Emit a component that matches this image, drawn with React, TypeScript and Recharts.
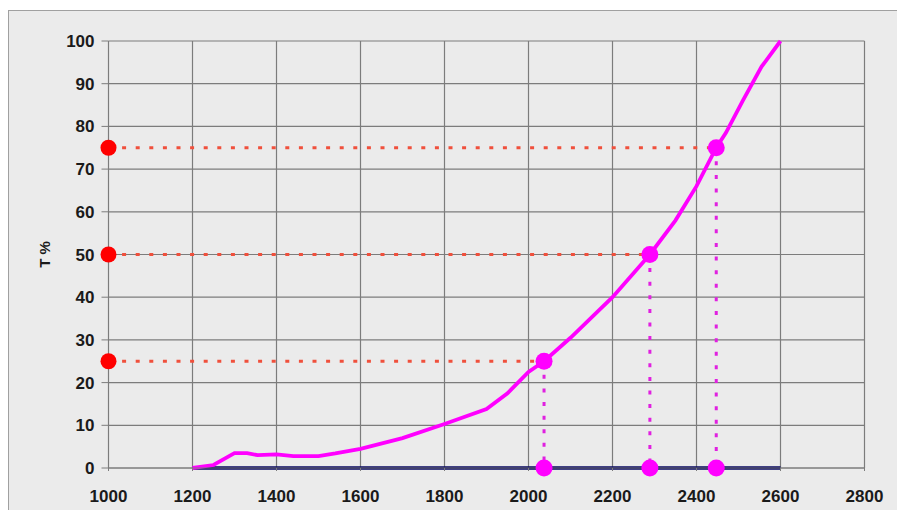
import React from 'react';
import { ComposedChart, Line, Scatter, XAxis, YAxis, CartesianGrid } from 'recharts';

const xTicks = [1000, 1200, 1400, 1600, 1800, 2000, 2200, 2400, 2600, 2800];
const yTicks = [0, 10, 20, 30, 40, 50, 60, 70, 80, 90, 100];

const curveX = [1200, 1250, 1300, 1330, 1355, 1400, 1440, 1500, 1540, 1600, 1700, 1800, 1900, 1950, 2000, 2037, 2100, 2200, 2289, 2350, 2400, 2447, 2470, 2510, 2555, 2600];
const curveY = [0, 0.7, 3.5, 3.5, 3.0, 3.2, 2.8, 2.8, 3.4, 4.5, 7.0, 10.3, 13.8, 17.5, 22.5, 25, 30.5, 40, 50, 58, 66, 75, 78.5, 86, 94, 100];

const baselineX = [1200, 2600];
const baselineY = [0, 0];

const levelsT = [25, 50, 75];
const levelsX = [2037, 2289, 2447];
const axisStartX = 1000;

const curveData = curveX.map((x, i) => ({ x, y: curveY[i] }));
const baselineData = baselineX.map((x, i) => ({ x, y: baselineY[i] }));
const redDots = levelsT.map((t) => ({ x: axisStartX, y: t }));
const curveDots = levelsT.map((t, i) => ({ x: levelsX[i], y: t }));
const bottomDots = levelsX.map((x) => ({ x, y: 0 }));

const font = '"Liberation Sans", Arial, sans-serif';
const tickStyle = { fontFamily: font, fontSize: 17, fontWeight: 700, fill: '#1a1a1a' };

const YLabel = (props: any) => {
  const vb = props.viewBox || { y: 30, height: 427 };
  const cy = vb.y + vb.height / 2;
  return (
    <text
      x={35}
      y={cy}
      transform={`rotate(-90, 35, ${cy})`}
      textAnchor="middle"
      dominantBaseline="central"
      style={{ fontFamily: font, fontSize: 15, fontWeight: 700, fill: '#1a1a1a' }}
    >
      T %
    </text>
  );
};

const dotShape = (fill: string, r: number) => (p: any) => (
  <circle cx={p.cx} cy={p.cy} r={r} fill={fill} />
);

export default function App() {
  return (
    <div
      style={{
        position: 'absolute',
        left: 8,
        top: 10,
        width: 889,
        height: 500,
        background: '#ebebeb',
        borderTop: '1px solid #a0a0a0',
        borderLeft: '1px solid #a0a0a0',
        boxSizing: 'border-box',
      }}
    >
      <ComposedChart width={888} height={499} margin={{ top: 30, right: 32.5, bottom: 0, left: 0 }}>
        <CartesianGrid stroke="#7c7c7c" strokeWidth={1.2} horizontal vertical />
        <XAxis
          type="number"
          dataKey="x"
          domain={[1000, 2800]}
          ticks={xTicks}
          interval={0}
          tick={tickStyle}
          tickSize={3}
          tickMargin={19}
          axisLine={{ stroke: '#7c7c7c' }}
          tickLine={{ stroke: '#7c7c7c' }}
          height={42}
        />
        <YAxis
          type="number"
          dataKey="y"
          domain={[0, 100]}
          ticks={yTicks}
          interval={0}
          width={99.5}
          tick={tickStyle}
          tickSize={7}
          tickMargin={7}
          axisLine={{ stroke: '#7c7c7c' }}
          tickLine={{ stroke: '#7c7c7c' }}
          label={<YLabel />}
        />
        {levelsT.map((t, i) => (
          <Line
            key={'h' + t}
            data={[{ x: axisStartX, y: t }, { x: levelsX[i], y: t }]}
            dataKey="y"
            stroke="#f0503c"
            strokeWidth={3}
            strokeDasharray="4 9.6"
            dot={false}
            activeDot={false}
            isAnimationActive={false}
          />
        ))}
        {levelsX.map((x, i) => (
          <Line
            key={'v' + x}
            data={[{ x, y: levelsT[i] }, { x, y: 0 }]}
            dataKey="y"
            stroke="#e020e0"
            strokeWidth={3}
            strokeDasharray="4 9.6"
            dot={false}
            activeDot={false}
            isAnimationActive={false}
          />
        ))}
        <Line
          data={baselineData}
          dataKey="y"
          stroke="#060660"
          strokeWidth={3.5}
          dot={false}
          activeDot={false}
          isAnimationActive={false}
        />
        <Line
          data={curveData}
          dataKey="y"
          type="linear"
          stroke="#ff00ff"
          strokeWidth={3.8}
          dot={false}
          activeDot={false}
          isAnimationActive={false}
        />
        <Scatter data={redDots} dataKey="y" fill="#ff0000" shape={dotShape('#ff0000', 8)} isAnimationActive={false} />
        <Scatter data={curveDots} dataKey="y" fill="#ff00ff" shape={dotShape('#ff00ff', 8.5)} isAnimationActive={false} />
        <Scatter data={bottomDots} dataKey="y" fill="#ff00ff" shape={dotShape('#ff00ff', 8.5)} isAnimationActive={false} />
      </ComposedChart>
    </div>
  );
}
